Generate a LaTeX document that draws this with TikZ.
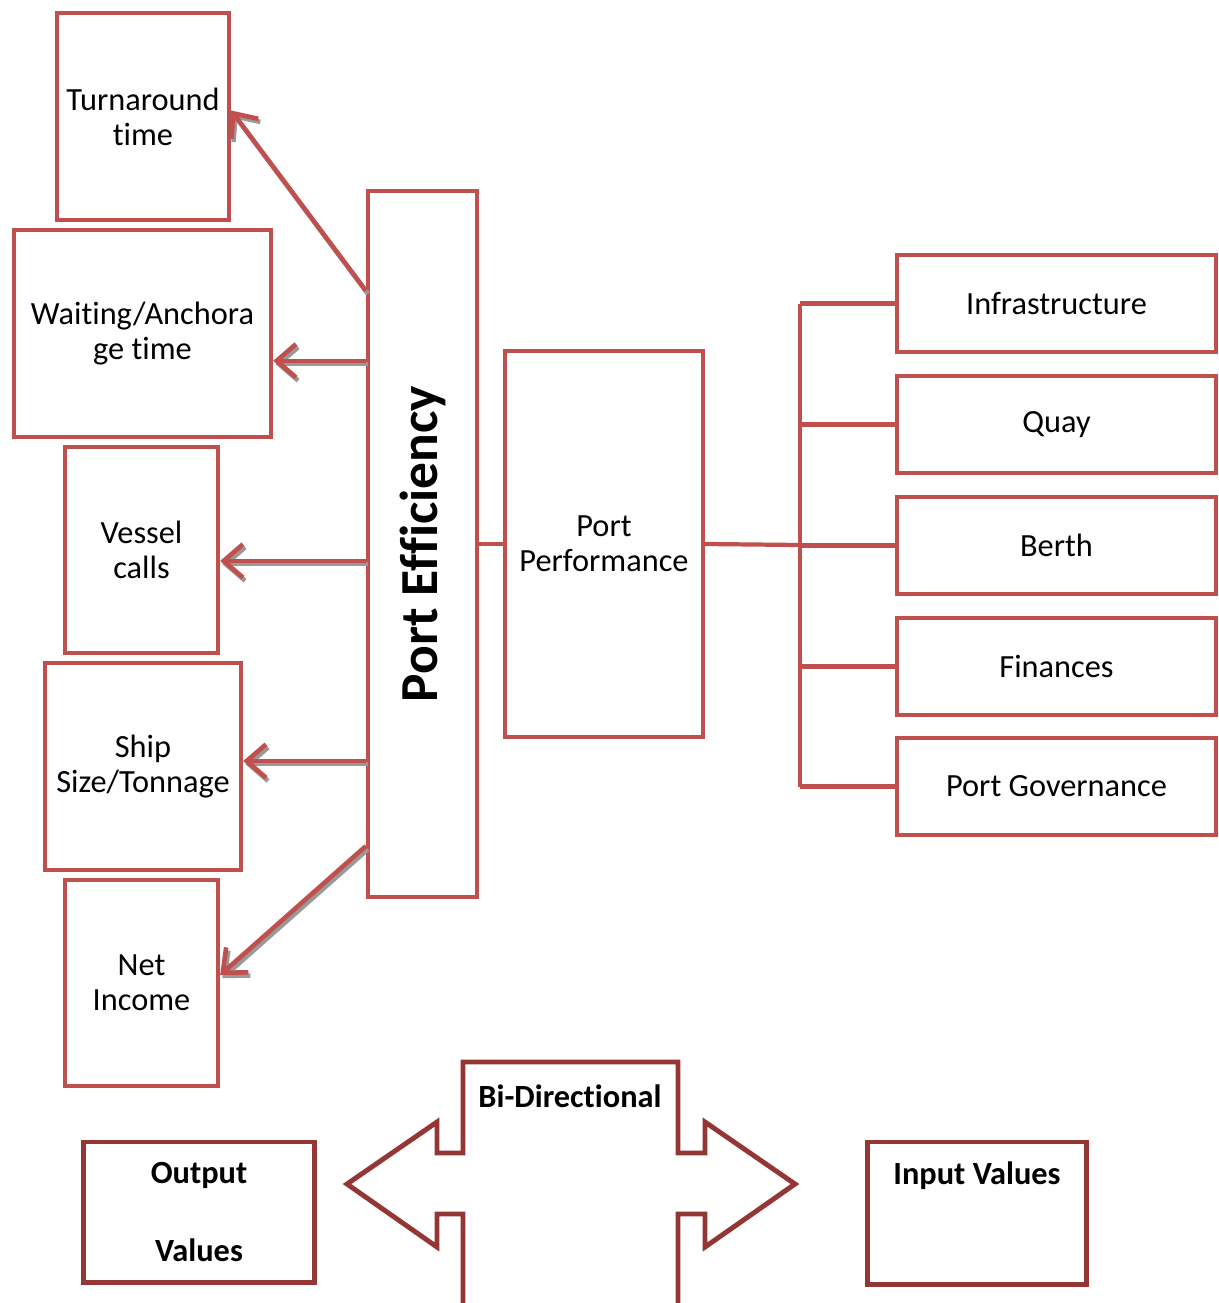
\documentclass[tikz,border=0pt]{standalone}
\usepackage{fontspec}
\setmainfont{Carlito}[Ligatures={NoCommon,NoContextual}, Contextuals=NoAlternate]
\usetikzlibrary{arrows.meta,calc}
\definecolor{boxred}{HTML}{C0504D}
\definecolor{darkred}{HTML}{943634}
\tikzset{
	box/.style={draw=boxred, line width=1.2pt, align=center, inner sep=0pt},
	outbox/.style={draw=darkred, line width=1.4pt, align=center, inner sep=0pt},
	link/.style={draw=boxred, line width=1.2pt},
	arr/.style={draw=boxred, line width=1.3pt, -{Straight Barb[length=5.5pt,width=9.5pt]}},
	arrshade/.style={draw=black!40, line width=1.3pt, -{Straight Barb[length=5.5pt,width=9.5pt]}, transform canvas={shift={(0.6pt,-0.9pt)}}},
	txt/.style={font=\fontsize{9.2}{10}\selectfont},
	boldtxt/.style={font=\fontsize{9.2}{10}\selectfont\bfseries, align=center},
}
\def\shadowarrow(#1)(#2){\draw[arrshade] (#1) -- (#2); \draw[arr] (#1) -- (#2);}

\begin{document}
\begin{tikzpicture}[x=0.01cm, y=-0.01cm]
		%%%%% START %%%%%
		\useasboundingbox (0, 0) rectangle (1219, 1303);
		
		% output boxes
		\node[box, txt, minimum width=1.72cm, minimum height=2.07cm] (turn) at (143, 116.5) {Turnaround\\time};
		\node[box, txt, minimum width=2.57cm, minimum height=2.07cm] (wait) at (142.5, 333.5) {Waiting/Anchora\\ge time};
		\node[box, txt, minimum width=1.53cm, minimum height=2.06cm] (vessel) at (141.5, 550) {Vessel\\calls};
		\node[box, txt, minimum width=1.96cm, minimum height=2.07cm] (ship) at (143, 766.5) {Ship\\Size/Tonnage};
		\node[box, txt, minimum width=1.53cm, minimum height=2.06cm] (income) at (141.5, 983) {Net\\Income};
		
		\node[box, minimum width=1.09cm, minimum height=7.06cm] (eff) at (422.5, 544) {};
		\node[rotate=90, font=\fontsize{15.2}{18}\selectfont\bfseries] (efflabel) at (eff.center) {Port Efficiency};
		
		\node[box, txt, minimum width=1.98cm, minimum height=3.86cm] (perf) at (604, 544) {Port\\Performance};
		
		% input boxes
		\node[box, txt, minimum width=3.19cm, minimum height=0.97cm] (infra) at (1056.5, 303.5) {Infrastructure};
		\node[box, txt, minimum width=3.19cm, minimum height=0.97cm] (quay) at (1056.5, 424.5) {Quay};
		\node[box, txt, minimum width=3.19cm, minimum height=0.97cm] (berth) at (1056.5, 545.5) {Berth};
		\node[box, txt, minimum width=3.19cm, minimum height=0.97cm] (finance) at (1056.5, 666.5) {Finances};
		\node[box, txt, minimum width=3.19cm, minimum height=0.97cm] (govern) at (1056.5, 786.5) {Port Governance};
		
		\coordinate (bus) at (800, 545);
		\draw[link] (eff.east) -- (perf.west);
		\draw[link] (perf.east) -- (bus);
		\draw[link] (bus |- infra) -- (bus |- govern);
		\draw[link] (bus |- infra) -- (infra.west);
		\draw[link] (bus |- quay) -- (quay.west);
		\draw[link] (bus |- berth) -- (berth.west);
		\draw[link] (bus |- finance) -- (finance.west);
		\draw[link] (bus |- govern) -- (govern.west);
		
		% arrows out of port efficiency
		\coordinate (e1) at ([yshift=-1.02cm]eff.north west);
		\coordinate (e2) at ([yshift=-1.72cm]eff.north west);
		\coordinate (e3) at ([yshift=-3.72cm]eff.north west);
		\coordinate (e4) at ([yshift=-5.72cm]eff.north west);
		\coordinate (e5) at ([yshift=-6.57cm]eff.north west);
		\shadowarrow(e1)([yshift=0.06cm]turn.east)
		\shadowarrow(e2)(wait.east |- e2)
		\shadowarrow(e3)(vessel.east |- e3)
		\shadowarrow(e4)(ship.east |- e4)
		\shadowarrow(e5)([yshift=0.08cm]income.east)
		
		% legend
		\node[outbox, boldtxt, minimum width=2.30cm, minimum height=1.40cm] (output) at (199, 1212) {Output\\[12pt]Values};
		\node[outbox, minimum width=2.18cm, minimum height=1.42cm] (input) at (977, 1213) {};
		\node[boldtxt] (inlabel) at (977, 1176) {Input Values};
		
		\draw[darkred, line width=1.4pt] (463, 1303) -- (463, 1214) -- (437, 1214) -- (437, 1247) -- (347, 1184) -- (437, 1122) -- (437, 1153) -- (463, 1153) -- (463, 1062) -- (678, 1062) -- (678, 1153) -- (705, 1153) -- (705, 1122) -- (795, 1184) -- (705, 1247) -- (705, 1214) -- (678, 1214) -- (678, 1303);
		\node[boldtxt] (bilabel) at (570, 1096) {Bi-Directional};
		
		%%%%% END %%%%%
	\end{tikzpicture}
\end{document}
